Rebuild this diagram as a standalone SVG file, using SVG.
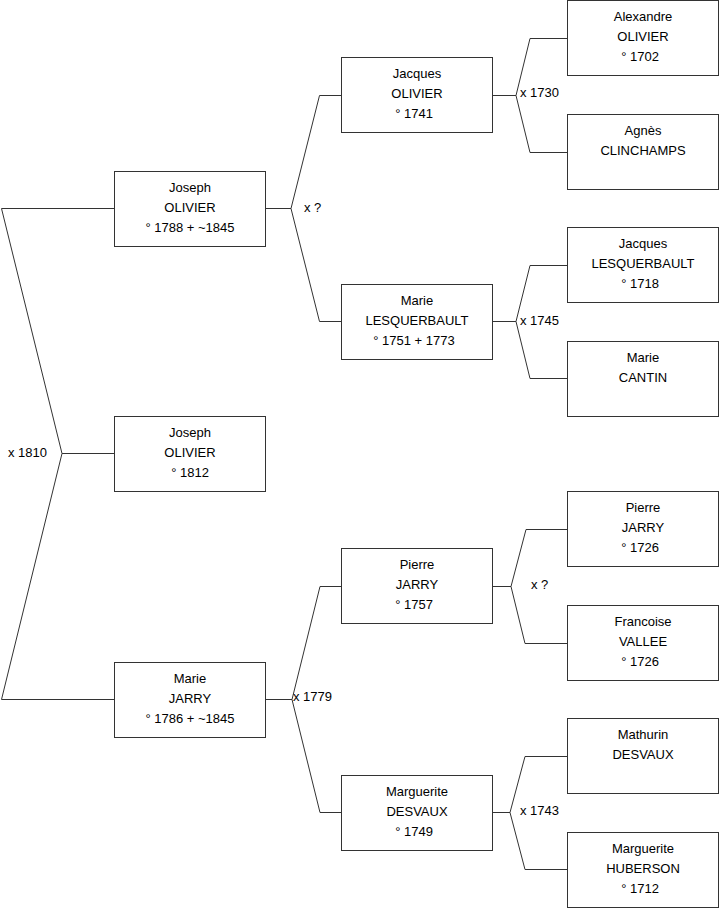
<svg xmlns="http://www.w3.org/2000/svg" width="719" height="908" viewBox="0 0 719 908">
<style>
rect{fill:#fff;stroke:#333;stroke-width:1}
.c{fill:none;stroke:#333;stroke-width:1}
text{font-family:"Liberation Sans",Arial,sans-serif;font-size:13px;fill:#000}
.n text{text-anchor:middle}
</style>
<rect x="0" y="0" width="719" height="908" style="stroke:none"/>
<g id="connectors">
<polyline class="c" points="114.5,208.5 1.5,208.5 62,453.5 1.5,699.5 114.5,699.5"/>
<line class="c" x1="62" y1="453.5" x2="114.5" y2="453.5"/>
<polyline class="c" points="341.5,95.5 319.5,95.5 291,208.5 319.5,321.5 341.5,321.5"/>
<line class="c" x1="265.5" y1="208.5" x2="291" y2="208.5"/>
<polyline class="c" points="341.5,586.5 320,586.5 292,699.5 320,812.5 341.5,812.5"/>
<line class="c" x1="265.5" y1="699.5" x2="292" y2="699.5"/>
<polyline class="c" points="567.5,38.5 530,38.5 516,95.5 530,152.5 567.5,152.5"/>
<line class="c" x1="492.5" y1="95.5" x2="516" y2="95.5"/>
<polyline class="c" points="567.5,265.5 530,265.5 516,321.5 530,378.5 567.5,378.5"/>
<line class="c" x1="492.5" y1="321.5" x2="516" y2="321.5"/>
<polyline class="c" points="567.5,529.5 526,529.5 511,586.5 525,643.5 567.5,643.5"/>
<line class="c" x1="492.5" y1="586.5" x2="511" y2="586.5"/>
<polyline class="c" points="567.5,756.5 525,756.5 510,812.5 525,869.5 567.5,869.5"/>
<line class="c" x1="492.5" y1="812.5" x2="510" y2="812.5"/>
<text x="8" y="457">x 1810</text>
<text x="304" y="212">x ?</text>
<text x="293" y="701">x 1779</text>
<text x="520" y="97">x 1730</text>
<text x="520" y="325">x 1745</text>
<text x="531" y="589">x ?</text>
<text x="520" y="815">x 1743</text>
</g>
<g id="n1" class="n"><rect x="114.5" y="171.5" width="151" height="75"/><text x="190" y="192">Joseph</text><text x="190" y="212">OLIVIER</text><text x="190" y="232">° 1788 + ~1845</text></g>
<g id="n2" class="n"><rect x="114.5" y="416.5" width="151" height="75"/><text x="190" y="437">Joseph</text><text x="190" y="457">OLIVIER</text><text x="190" y="477">° 1812</text></g>
<g id="n3" class="n"><rect x="114.5" y="662.5" width="151" height="75"/><text x="190" y="683">Marie</text><text x="190" y="703">JARRY</text><text x="190" y="723">° 1786 + ~1845</text></g>
<g id="n4" class="n"><rect x="341.5" y="57.5" width="151" height="75"/><text x="417" y="78">Jacques</text><text x="417" y="98">OLIVIER</text><text x="414" y="118">° 1741</text></g>
<g id="n5" class="n"><rect x="341.5" y="284.5" width="151" height="75"/><text x="417" y="305">Marie</text><text x="417" y="325">LESQUERBAULT</text><text x="414" y="345">° 1751 + 1773</text></g>
<g id="n6" class="n"><rect x="341.5" y="548.5" width="151" height="75"/><text x="417" y="569">Pierre</text><text x="417" y="589">JARRY</text><text x="414" y="609">° 1757</text></g>
<g id="n7" class="n"><rect x="341.5" y="775.5" width="151" height="75"/><text x="417" y="796">Marguerite</text><text x="417" y="816">DESVAUX</text><text x="414" y="836">° 1749</text></g>
<g id="n8" class="n"><rect x="567.5" y="0.5" width="151" height="75"/><text x="643" y="21">Alexandre</text><text x="643" y="41">OLIVIER</text><text x="640" y="61">° 1702</text></g>
<g id="n9" class="n"><rect x="567.5" y="114.5" width="151" height="75"/><text x="643" y="135">Agnès</text><text x="643" y="155">CLINCHAMPS</text></g>
<g id="n10" class="n"><rect x="567.5" y="227.5" width="151" height="75"/><text x="643" y="248">Jacques</text><text x="643" y="268">LESQUERBAULT</text><text x="640" y="288">° 1718</text></g>
<g id="n11" class="n"><rect x="567.5" y="341.5" width="151" height="75"/><text x="643" y="362">Marie</text><text x="643" y="382">CANTIN</text></g>
<g id="n12" class="n"><rect x="567.5" y="491.5" width="151" height="75"/><text x="643" y="512">Pierre</text><text x="643" y="532">JARRY</text><text x="640" y="552">° 1726</text></g>
<g id="n13" class="n"><rect x="567.5" y="605.5" width="151" height="75"/><text x="643" y="626">Francoise</text><text x="643" y="646">VALLEE</text><text x="640" y="666">° 1726</text></g>
<g id="n14" class="n"><rect x="567.5" y="718.5" width="151" height="75"/><text x="643" y="739">Mathurin</text><text x="643" y="759">DESVAUX</text></g>
<g id="n15" class="n"><rect x="567.5" y="832.5" width="151" height="75"/><text x="643" y="853">Marguerite</text><text x="643" y="873">HUBERSON</text><text x="640" y="893">° 1712</text></g>
</svg>
